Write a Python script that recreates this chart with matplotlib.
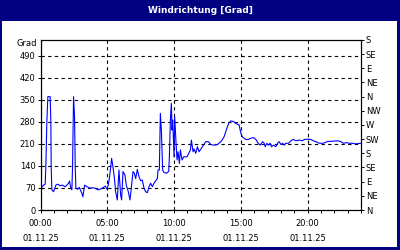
import matplotlib
matplotlib.use("Agg")
import matplotlib.pyplot as plt
from matplotlib.patches import Rectangle
from matplotlib.ticker import MultipleLocator

# wind direction over the day (hours since 00:00, degrees)
hours = [0.05, 0.2, 0.35, 0.4, 0.475, 0.55, 0.725, 0.775, 0.8, 0.85, 0.975, 1.05, 1.15, 1.3,
         1.475, 1.65, 1.85, 2.1, 2.175, 2.25, 2.35, 2.4, 2.475, 2.55, 2.6, 2.65, 2.8, 2.9, 3.1,
         3.175, 3.3, 3.475, 3.725, 3.85, 4.1, 4.3, 4.475, 4.725, 4.85, 4.975, 5.075, 5.175,
         5.325, 5.425, 5.55, 5.625, 5.75, 5.875, 6.0, 6.075, 6.175, 6.325, 6.425, 6.575, 6.7,
         6.825, 6.925, 7.025, 7.125, 7.25, 7.375, 7.5, 7.625, 7.75, 7.875, 8.0, 8.125, 8.25,
         8.375, 8.5, 8.625, 8.75, 8.8, 8.9, 8.975, 9.05, 9.15, 9.25, 9.45, 9.6, 9.65, 9.725,
         9.8, 9.85, 9.9, 10.0, 10.05, 10.15, 10.225, 10.3, 10.4, 10.475, 10.6, 10.725, 10.975,
         11.1, 11.225, 11.3, 11.425, 11.5, 11.625, 11.75, 11.875, 12.125,
         12.375, 12.575, 12.75, 13.0, 13.25, 13.5, 13.625, 13.75, 13.875, 14.0, 14.125, 14.25,
         14.45, 14.625, 14.875, 14.95, 15.05, 15.15, 15.375, 15.55, 15.75, 15.95, 16.125, 16.3,
         16.45, 16.625, 16.75, 16.825, 16.95, 17.05, 17.2, 17.3, 17.45, 17.625, 17.75, 17.875,
         18.0, 18.125, 18.25, 18.375, 18.575, 18.75, 18.925, 19.125, 19.375, 19.625, 19.75,
         20.0, 20.25, 20.425, 20.625, 20.875, 21.125, 21.325, 21.5, 21.75, 22.0, 22.25, 22.5,
         22.675, 22.925, 23.125, 23.375, 23.625, 23.95]
degrees = [69, 78, 82, 138, 280, 360, 360, 280, 137, 64, 58, 66, 79, 82,
           77, 79, 74, 85, 92, 74, 64, 138, 360, 296, 138, 69, 66, 72, 53,
           42, 79, 74, 69, 71, 69, 64, 66, 72, 76, 67, 79, 106,
           164, 138, 95, 58, 32, 127, 48, 32, 122, 111, 79, 58, 32,
           79, 122, 117, 100, 129, 106, 93, 95, 69, 58, 55, 74, 85,
           74, 85, 93, 100, 127, 127, 307, 254, 127, 119, 117, 123, 169, 286,
           339, 254, 286, 169, 296, 212, 159, 185, 148, 191, 159, 169, 169,
           180, 191, 222, 185, 194, 180, 201, 185, 201,
           217, 217, 208, 206, 208, 217, 224, 233, 249, 265, 277, 283,
           281, 275, 270, 254, 238, 231, 224, 224, 228, 230, 224, 212,
           206, 217, 212, 201, 212, 206, 212, 201, 206, 201, 212, 217,
           208, 212, 206, 212, 212, 220, 224, 220, 222, 220, 224,
           225, 224, 220, 217, 212, 212, 214, 218, 218, 219, 220, 217,
           212, 214, 212, 212, 210, 212]

x_ticks = [0, 5, 10, 15, 20]
x_labels = ["00:00\n01.11.25", "05:00\n01.11.25", "10:00\n01.11.25",
            "15:00\n01.11.25", "20:00\n01.11.25"]
y_ticks = [0, 70, 140, 210, 280, 350, 420, 490]
compass_ticks = [0, 45, 90, 135, 180, 225, 270, 315, 360, 405, 450, 495, 540]
compass_labels = ["N", "NE", "E", "SE", "S", "SW", "W", "NW", "N", "NE", "E", "SE", "S"]

navy = "#000080"
fs = 6

fig = plt.figure(figsize=(4, 2.5), dpi=100, facecolor="white")

# title bar and frame
fig.patches.append(Rectangle((0, 1 - 21 / 250), 1, 21 / 250, transform=fig.transFigure,
                             facecolor=navy, edgecolor="none", zorder=0))
fig.patches.append(Rectangle((0, 0), 2 / 400, 1, transform=fig.transFigure,
                             facecolor=navy, edgecolor="none", zorder=0))
fig.patches.append(Rectangle((1 - 3 / 400, 0), 3 / 400, 1, transform=fig.transFigure,
                             facecolor=navy, edgecolor="none", zorder=0))
fig.patches.append(Rectangle((0, 0), 1, 3 / 250, transform=fig.transFigure,
                             facecolor=navy, edgecolor="none", zorder=0))
fig.text(0.5, 1 - 10.5 / 250, "Windrichtung [Grad]", color="white", fontsize=6.5,
         fontweight="bold", ha="center", va="center")

ax = fig.add_axes([40.5 / 400, 40 / 250, 320.5 / 400, 170 / 250])
ax.plot(hours, degrees, color="#0000ff", lw=0.8)

ax.set_xlim(0, 24)
ax.set_ylim(0, 540)
ax.set_xticks(x_ticks)
ax.set_xticklabels(x_labels, fontsize=fs, linespacing=1.9)
ax.xaxis.set_minor_locator(MultipleLocator(1))
ax.set_yticks(y_ticks)
ax.tick_params(axis="y", labelsize=fs, length=2.5, width=0.7, pad=1)
ax.tick_params(axis="x", which="both", length=2.5, width=0.7, pad=4)
ax.grid(True, which="major", color="black", lw=0.8, linestyle=(0, (3, 3)))
for s in ax.spines.values():
    s.set_linewidth(0.8)

ax2 = ax.twinx()
ax2.set_ylim(0, 540)
ax2.set_yticks(compass_ticks)
ax2.set_yticklabels(compass_labels, fontsize=fs)
ax2.tick_params(axis="y", length=2.5, width=0.7, pad=1)

fig.text(37 / 400, 1 - 44 / 250, "Grad", fontsize=fs, ha="right", va="center")

fig.savefig("out.png", dpi=100)
